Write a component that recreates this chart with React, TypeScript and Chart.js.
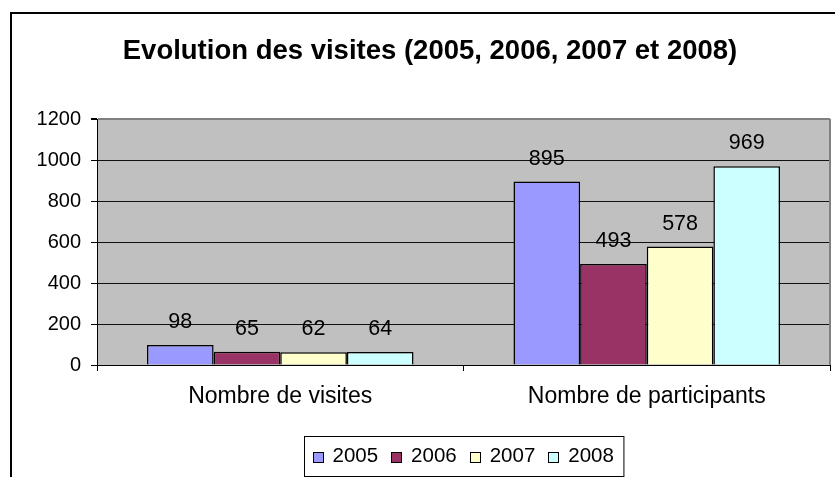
import React, { useEffect, useRef } from "react";
import { Chart, registerables } from "chart.js";

Chart.register(...registerables);

const titleText = "Evolution des visites (2005, 2006, 2007 et 2008)";
const categories = ["Nombre de visites", "Nombre de participants"];
const seriesLabels = ["2005", "2006", "2007", "2008"];
const values2005 = [98, 895];
const values2006 = [65, 493];
const values2007 = [62, 578];
const values2008 = [64, 969];
const seriesColors = ["#9999FF", "#993366", "#FFFFCC", "#CCFFFF"];
const yMin = 0;
const yMax = 1200;
const yStep = 200;

const FONT = "'Liberation Sans', Arial, sans-serif";

const decorPlugin = {
  id: "decor",
  beforeDraw(chart: any) {
    const { ctx, chartArea } = chart;
    ctx.save();
    ctx.fillStyle = "#ffffff";
    ctx.fillRect(0, 0, chart.width, chart.height);
    ctx.fillStyle = "#C0C0C0";
    ctx.fillRect(chartArea.left, chartArea.top, chartArea.right - chartArea.left, chartArea.bottom - chartArea.top);
    ctx.strokeStyle = "#000";
    ctx.lineWidth = 2;
    ctx.beginPath();
    ctx.moveTo(11, chart.height + 5);
    ctx.lineTo(11, 13);
    ctx.lineTo(chart.width + 5, 13);
    ctx.stroke();
    ctx.restore();
  },
  afterDatasetsDraw(chart: any) {
    const { ctx, chartArea } = chart;
    ctx.save();
    ctx.strokeStyle = "#808080";
    ctx.lineWidth = 2;
    ctx.beginPath();
    ctx.moveTo(chartArea.right, chartArea.top);
    ctx.lineTo(chartArea.right, chartArea.bottom);
    ctx.stroke();
    ctx.fillStyle = "#000";
    ctx.font = `21.5px ${FONT}`;
    ctx.textAlign = "center";
    ctx.textBaseline = "alphabetic";
    chart.data.datasets.forEach((ds: any, i: number) => {
      const meta = chart.getDatasetMeta(i);
      meta.data.forEach((bar: any, j: number) => {
        ctx.fillText(String(ds.data[j]), bar.x, bar.y - 17);
      });
    });
    ctx.restore();
  },
  afterDraw(chart: any) {
    const { ctx, chartArea } = chart;
    ctx.save();
    ctx.font = `20.5px ${FONT}`;
    const box = 11;
    const gap = 9;
    const spacing = 13;
    const padL = 8;
    const padR = 10;
    const widths = chart.data.datasets.map((ds: any) => ctx.measureText(ds.label).width);
    let content = 0;
    widths.forEach((w: number, i: number) => {
      content += box + gap + w + (i > 0 ? spacing : 0);
    });
    const total = content + padL + padR;
    const cx = (chartArea.left + chartArea.right) / 2;
    const left = Math.round(cx - total / 2) + 0.5;
    const top = 436.5;
    const height = 40;
    ctx.strokeStyle = "#000";
    ctx.lineWidth = 1;
    ctx.strokeRect(left, top, total, height);
    let x = left + padL;
    const baseline = 462;
    chart.data.datasets.forEach((ds: any, i: number) => {
      ctx.fillStyle = ds.backgroundColor;
      ctx.fillRect(Math.round(x), baseline - 10, box, box);
      ctx.strokeStyle = "#000";
      ctx.strokeRect(Math.round(x) + 0.5, baseline - 10 + 0.5, box - 1, box - 1);
      x += box + gap;
      ctx.fillStyle = "#000";
      ctx.textAlign = "left";
      ctx.textBaseline = "alphabetic";
      ctx.fillText(ds.label, x, baseline);
      x += widths[i] + spacing;
    });
    ctx.restore();
  },
};

export default function App() {
  const canvasRef = useRef<HTMLCanvasElement | null>(null);

  useEffect(() => {
    if (!canvasRef.current) return;
    const seriesValues = [values2005, values2006, values2007, values2008];
    const chart = new Chart(canvasRef.current, {
      type: "bar",
      data: {
        labels: categories,
        datasets: seriesLabels.map((label, i) => ({
          label,
          data: seriesValues[i],
          backgroundColor: seriesColors[i],
          borderColor: "#000",
          borderWidth: 1.5,
          categoryPercentage: 4 / 5.5,
          barPercentage: 1,
        })),
      },
      options: {
        animation: false,
        responsive: false,
        maintainAspectRatio: false,
        devicePixelRatio: 1,
        layout: { padding: { left: 30, right: 5, top: 0, bottom: 62 } },
        plugins: {
          legend: { display: false },
          tooltip: { enabled: false },
          title: {
            display: true,
            text: titleText,
            color: "#000",
            font: { family: FONT, size: 27.5, weight: "bold", lineHeight: 1.2 },
            padding: { top: 35, bottom: 51 },
          },
        },
        scales: {
          x: {
            grid: {
              display: true,
              drawOnChartArea: false,
              drawTicks: true,
              tickLength: 6,
              offset: true,
              color: "#000",
            },
            border: { display: true, color: "#000", width: 1 },
            ticks: {
              color: "#000",
              padding: 12,
              font: { family: FONT, size: 23 },
              maxRotation: 0,
            },
            afterFit: (scale: any) => {
              scale.height = 50;
            },
          },
          y: {
            min: yMin,
            max: yMax,
            ticks: {
              stepSize: yStep,
              color: "#000",
              padding: 10,
              font: { family: FONT, size: 20 },
              callback: (v: any) => String(v),
            },
            grid: {
              color: (c: any) => (c.tick && c.tick.value === yMax ? "#808080" : "#111"),
              lineWidth: (c: any) => (c.tick && c.tick.value === yMax ? 2 : 1),
              tickColor: "#000",
              tickLength: 6,
              drawTicks: true,
            },
            border: { display: true, color: "#000", width: 1 },
            afterFit: (scale: any) => {
              scale.width = 67;
            },
          },
        },
      },
      plugins: [decorPlugin],
    });
    return () => chart.destroy();
  }, []);

  return (
    <div style={{ position: "fixed", left: 0, top: 0, width: 835, height: 477 }}>
      <canvas ref={canvasRef} width={835} height={477} style={{ display: "block", width: 835, height: 477 }} />
    </div>
  );
}
